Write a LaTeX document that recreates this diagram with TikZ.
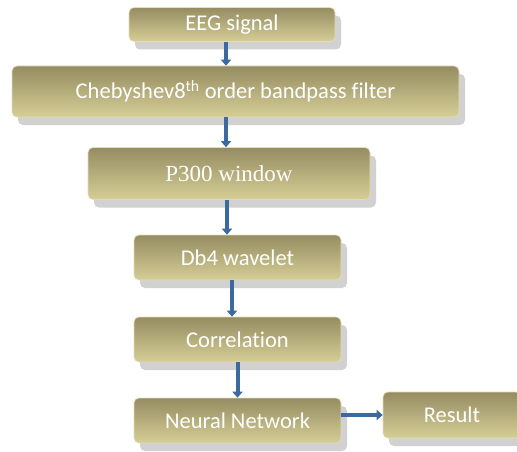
\documentclass[tikz,border=0pt]{standalone}
\usepackage{fontspec}
\setmainfont[Ligatures={NoCommon}]{Carlito}
\newfontfamily\serifbox{Liberation Serif}
\usepackage{tikz}
\usetikzlibrary{arrows.meta,shadows}

\definecolor{boxtop}{HTML}{958C62}
\definecolor{boxmid}{HTML}{A39A6C}
\definecolor{boxbot}{HTML}{D6CE96}
\definecolor{arrowblue}{HTML}{3A6AA0}

\begin{document}
\begin{tikzpicture}[
  x=1pt, y=-1pt,
  block/.style={rectangle, rounded corners=5pt, draw=boxbot!70!white, line width=0.6pt,
    top color=boxtop, middle color=boxmid, bottom color=boxbot,
    text=white, font=\fontsize{22.5}{26}\selectfont, align=center, inner sep=0pt,
    drop shadow={shadow xshift=6pt, shadow yshift=-8pt, opacity=0.3, fill=black!60}},
  line/.style={-{Triangle[length=6pt,width=10pt]}, line width=4pt, draw=arrowblue}
]
\useasboundingbox (0,0) rectangle (517,452);

\node[block, minimum width=206pt, minimum height=34pt] (eeg) at (232,24.5) {EEG signal};
\node[block, minimum width=447pt, minimum height=51pt] (cheb) at (235.5,91.5) {Chebyshev8\textsuperscript{th} order bandpass filter};
\node[block, minimum width=282pt, minimum height=52pt, font=\serifbox\fontsize{23}{26}\selectfont] (p300) at (229,173.5) {P300 window};
\node[block, minimum width=207pt, minimum height=45pt] (db4) at (237.5,257.5) {Db4 wavelet};
\node[block, minimum width=207pt, minimum height=45pt] (corr) at (237.5,339.5) {Correlation};
\node[block, minimum width=207pt, minimum height=45pt] (nn) at (237.5,420.5) {Neural Network};
\node[block, minimum width=138pt, minimum height=46pt] (result) at (452,415) {Result};

\draw[line] ([xshift=-6pt]eeg.south) -- ([xshift=-6pt]eeg.south |- cheb.north);
\draw[line] ([xshift=-9.5pt]cheb.south) -- ([xshift=-9.5pt]cheb.south |- p300.north);
\draw[line] ([xshift=-2pt]p300.south) -- ([xshift=-2pt]p300.south |- db4.north);
\draw[line] ([xshift=-5.5pt]db4.south) -- ([xshift=-5.5pt]db4.south |- corr.north);
\draw[line] (corr.south) -- (corr.south |- nn.north);
\draw[line] (nn.east |- result) -- (result.west);
\end{tikzpicture}
\end{document}
